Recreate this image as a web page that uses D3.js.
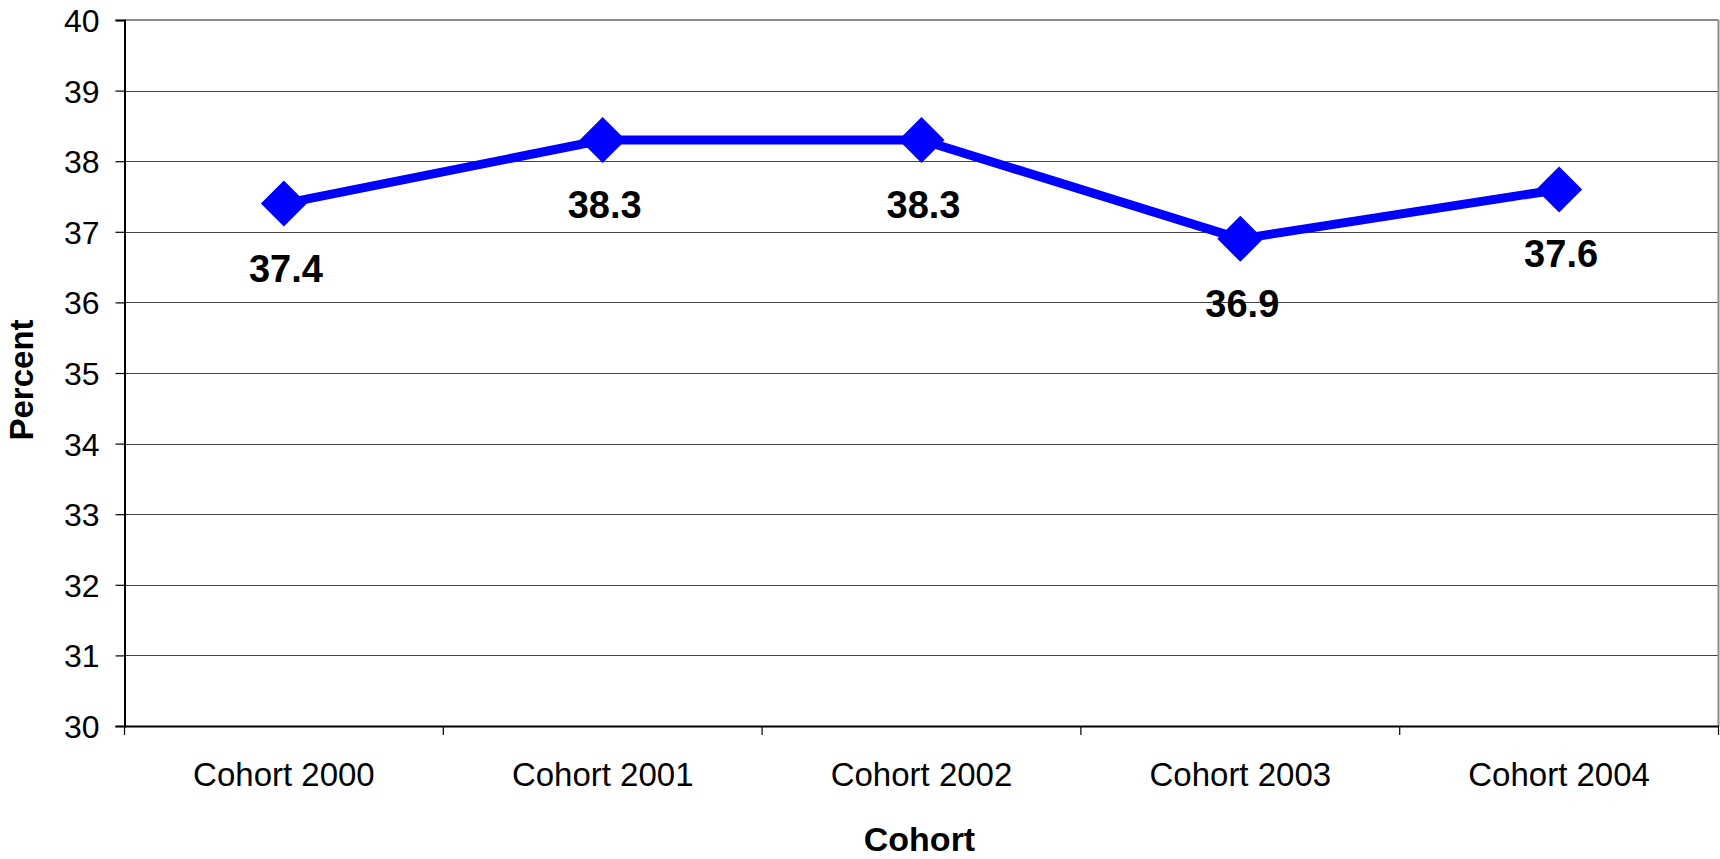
<!DOCTYPE html>
<html>
<head>
<meta charset="utf-8">
<script src="https://cdn.jsdelivr.net/npm/d3@7"></script>
<style>
  html, body { margin: 0; padding: 0; background: #fff; }
  svg { display: block; }
  text { font-family: Arial, "Liberation Sans", sans-serif; fill: #000; }
</style>
</head>
<body>
<svg id="chart" width="1720" height="859"></svg>
<script>
const categories = ["Cohort 2000", "Cohort 2001", "Cohort 2002", "Cohort 2003", "Cohort 2004"];
const values = [37.4, 38.3, 38.3, 36.9, 37.6];
const yTicks = [30, 31, 32, 33, 34, 35, 36, 37, 38, 39, 40];

(function () {
const svg = d3.select("#chart");
const pLeft = 124.5, pRight = 1718.5, pTop = 20, pBottom = 726;

const x = d3.scaleBand().domain(categories).range([pLeft, pRight]).padding(0);
const y = d3.scaleLinear().domain([30, 40]).range([pBottom, pTop]);

// gridlines
svg.append("g").selectAll("line").data(yTicks.filter(d => d > 30 && d < 40)).join("line")
  .attr("x1", pLeft).attr("x2", pRight)
  .attr("y1", d => Math.round(y(d)) + 0.5).attr("y2", d => Math.round(y(d)) + 0.5)
  .attr("stroke", "#444").attr("stroke-width", 1.2);

// top and right border (gray)
svg.append("line").attr("x1", pLeft).attr("x2", pRight).attr("y1", pTop).attr("y2", pTop)
  .attr("stroke", "#8c8c8c").attr("stroke-width", 2);
svg.append("line").attr("x1", pRight).attr("x2", pRight).attr("y1", pTop).attr("y2", pBottom)
  .attr("stroke", "#8c8c8c").attr("stroke-width", 2);

// y axis
const yAxis = d3.axisLeft(y).tickValues(yTicks).tickSize(9).tickPadding(16).tickFormat(d3.format("d"));
const gy = svg.append("g").attr("transform", `translate(${pLeft},0)`).call(yAxis);
gy.select(".domain").attr("stroke", "#000").attr("stroke-width", 2);
gy.selectAll(".tick line").attr("stroke", "#000").attr("stroke-width", 1.2);
gy.selectAll(".tick text").attr("font-size", 32).attr("font-family", "Arial, 'Liberation Sans', sans-serif").attr("dy", "0.36em");

// x axis
const xAxis = d3.axisBottom(x).tickSize(0).tickPadding(0);
const gx = svg.append("g").attr("transform", `translate(0,${pBottom})`).call(xAxis);
gx.select(".domain").attr("stroke", "#000").attr("stroke-width", 2);
gx.selectAll(".tick text").attr("font-size", 33).attr("font-family", "Arial, 'Liberation Sans', sans-serif")
  .attr("y", 60).attr("dy", 0);
// category boundary ticks
const bounds = categories.map(c => x(c)).concat([x(categories[categories.length - 1]) + x.bandwidth()]);
svg.append("g").selectAll("line").data(bounds).join("line")
  .attr("x1", d => d).attr("x2", d => d).attr("y1", pBottom).attr("y2", pBottom + 9)
  .attr("stroke", "#000").attr("stroke-width", 1.2);

// line
const cx = d => x(d) + x.bandwidth() / 2;
const pts = categories.map((c, i) => [cx(c), y(values[i])]);
svg.append("path").datum(pts)
  .attr("d", d3.line())
  .attr("fill", "none").attr("stroke", "#0000ff").attr("stroke-width", 9).attr("stroke-linejoin", "round");

// diamond markers
svg.append("g").selectAll("path").data(pts).join("path")
  .attr("d", d => `M${d[0]},${d[1] - 23}L${d[0] + 23},${d[1]}L${d[0]},${d[1] + 23}L${d[0] - 23},${d[1]}Z`)
  .attr("fill", "#0000ff");

// data labels
svg.append("g").selectAll("text").data(values).join("text")
  .attr("x", (d, i) => pts[i][0] + 2)
  .attr("y", (d, i) => pts[i][1] + 78)
  .attr("text-anchor", "middle")
  .attr("font-size", 38).attr("font-weight", "bold")
  .text(d => d.toFixed(1));

// axis titles
svg.append("text").attr("x", (pLeft + pRight) / 2 - 2).attr("y", 851)
  .attr("text-anchor", "middle").attr("font-size", 34).attr("font-weight", "bold").text("Cohort");
svg.append("text").attr("transform", `translate(33,380) rotate(-90)`)
  .attr("text-anchor", "middle").attr("font-size", 33).attr("font-weight", "bold").text("Percent");
})();
</script>
</body>
</html>
